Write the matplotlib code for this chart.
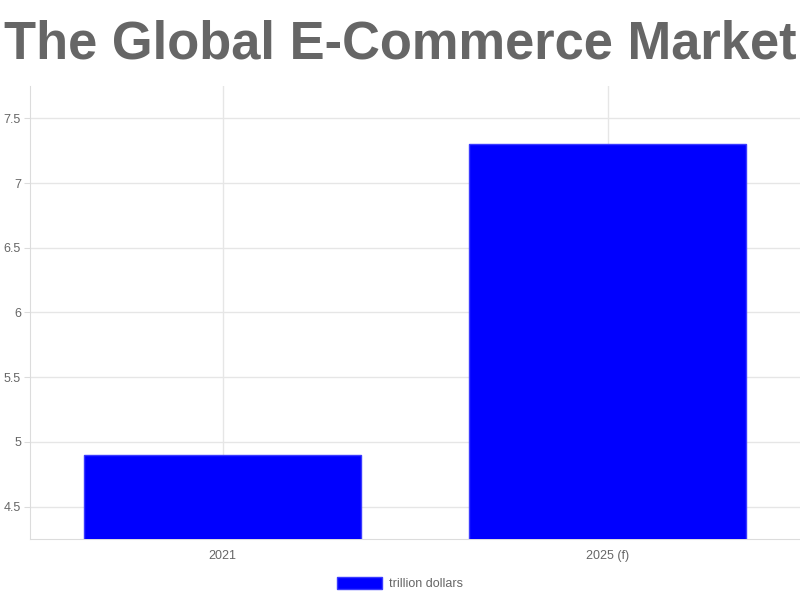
import matplotlib.pyplot as plt

years = ['2021', '2025 (f)']
market = [4.9, 7.3]
y_ticks = [4.5, 5, 5.5, 6, 6.5, 7, 7.5]
y_labels = ['4.5', '5', '5.5', '6', '6.5', '7', '7.5']

plt.rcParams['font.family'] = ['Liberation Sans', 'DejaVu Sans']

fig = plt.figure(figsize=(8, 6), dpi=100)
ax = fig.add_axes([0.0375, 0.1017, 0.9625, 0.755])

x = list(range(len(years)))
ax.bar(x, market, width=0.72, bottom=0, color='#0000ff', edgecolor='#3b3bff',
       linewidth=1, label='trillion dollars', zorder=3)

ax.set_xlim(-0.5, 1.5)
ax.set_ylim(4.25, 7.75)
ax.set_xticks(x)
ax.set_xticklabels(years)
ax.set_yticks(y_ticks)
ax.set_yticklabels(y_labels)

ax.grid(True, color='#e6e6e6', linewidth=1, zorder=0)
for side in ['top', 'right']:
    ax.spines[side].set_visible(False)
for side in ['left', 'bottom']:
    ax.spines[side].set_color('#dcdcdc')
ax.tick_params(axis='both', colors='#dcdcdc', labelcolor='#666666',
               labelsize=9, length=4.5, pad=2)
ax.tick_params(axis='x', length=0, pad=8)

fig.text(0.5, 0.903, 'The Global E-Commerce Market', ha='center', va='baseline',
         fontsize=37.8, fontweight='bold', color='#666666')

fig.legend(loc='center', bbox_to_anchor=(0.5, 0.027), frameon=False, fontsize=9,
           handlelength=3.6, handleheight=1.0, handletextpad=0.5,
           labelcolor='#666666')

fig.savefig('out.png', dpi=100)
